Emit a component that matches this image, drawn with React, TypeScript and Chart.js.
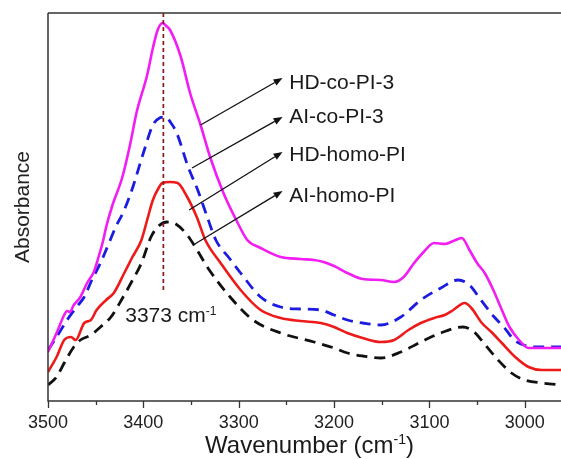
import React, { useEffect, useRef } from 'react';
import { Chart, registerables } from 'chart.js';

Chart.register(...registerables);

// ---- data (wavenumber in cm^-1, absorbance in arbitrary units) ----
const hdCoWn = [3500, 3491, 3483, 3480, 3477, 3473, 3466, 3459, 3452, 3447, 3442, 3439, 3433, 3422, 3414, 3407, 3396, 3390, 3385, 3380, 3376, 3372, 3361, 3351, 3340, 3330, 3316, 3301, 3291, 3277, 3256, 3235, 3221, 3211, 3200, 3186, 3170, 3151, 3137, 3127, 3116, 3106, 3095, 3084, 3075, 3066, 3058, 3050, 3042, 3033, 3024, 3016, 3006, 2996, 2982, 2960];
const hdCoAbs = [49, 68, 86, 90, 89, 96, 104, 118, 129, 144, 161, 174, 194, 224, 256, 289, 326, 353, 371, 378, 375, 371, 345, 308, 276, 244, 208, 178, 161, 153, 144, 142, 141, 139, 135, 128, 122, 121, 119, 124, 138, 149, 158, 157, 160, 163, 151, 138, 128, 111, 91, 74, 61, 53, 53, 53];

const aiCoWn = [3500, 3491, 3480, 3470, 3462, 3454, 3445, 3436, 3429, 3420, 3411, 3400, 3390, 3383, 3377, 3371, 3365, 3353, 3343, 3333, 3324, 3310, 3298, 3277, 3256, 3235, 3214, 3200, 3186, 3170, 3151, 3130, 3109, 3088, 3070, 3058, 3046, 3032, 3022, 3011, 2998, 2986, 2960];
const aiCoAbs = [51, 64, 81, 94, 104, 121, 138, 158, 174, 191, 214, 248, 276, 283, 284, 278, 268, 234, 211, 184, 161, 143, 128, 104, 94, 92, 91, 86, 81, 78, 76, 84, 101, 113, 121, 116, 101, 84, 74, 61, 55, 54, 54];

const hdHomoWn = [3500, 3491, 3483, 3476, 3471, 3462, 3455, 3449, 3439, 3431, 3420, 3412, 3402, 3396, 3390, 3384, 3380, 3372, 3364, 3354, 3344, 3335, 3319, 3298, 3277, 3256, 3235, 3214, 3200, 3186, 3170, 3151, 3137, 3122, 3109, 3095, 3084, 3075, 3063, 3056, 3045, 3035, 3024, 3010, 2996, 2982, 2960];
const hdHomoAbs = [29, 44, 61, 64, 61, 78, 81, 91, 101, 108, 128, 143, 161, 181, 201, 213, 218, 219, 218, 204, 184, 161, 138, 111, 91, 83, 80, 78, 74, 68, 63, 59, 61, 71, 78, 83, 86, 91, 98, 93, 78, 69, 58, 44, 34, 31, 31];

const aiHomoWn = [3500, 3491, 3483, 3473, 3466, 3455, 3445, 3434, 3423, 3413, 3402, 3392, 3384, 3375, 3366, 3354, 3343, 3333, 3309, 3285, 3256, 3221, 3200, 3186, 3170, 3151, 3130, 3109, 3088, 3065, 3053, 3043, 3028, 3014, 3000, 2982, 2960];
const aiHomoAbs = [16, 24, 38, 54, 61, 66, 74, 84, 101, 118, 138, 164, 175, 179, 177, 166, 150, 134, 104, 81, 68, 59, 53, 48, 45, 43, 49, 59, 68, 74, 69, 58, 41, 28, 21, 18, 16];

const seriesNames = ['HD-co-PI-3', 'AI-co-PI-3', 'HD-homo-PI', 'AI-homo-PI'];
const seriesColors = ['#f21df2', '#1c1ce0', '#ee1a1a', '#111111'];

const majorTicks = [3500, 3400, 3300, 3200, 3100, 3000];
const minorTicks = [3450, 3350, 3250, 3150, 3050];

// annotation arrows (data coordinates)
const arrowFromWn = [3340, 3349, 3352, 3346];
const arrowFromAbs = [276, 233, 191, 157];
const arrowToWn = [3254, 3254, 3254, 3254];
const arrowToAbs = [323, 284, 249, 210];
const labelWn = 3247;
const labelAbs = [312, 278, 240, 199];

const peakWn = 3379;
const peakLineBottomAbs = 108;
const peakLabelWn = 3419;
const peakLabelAbs = 79;

const FONT = '"Liberation Sans", Arial, Helvetica, sans-serif';

const toXY = (xs: number[], ys: number[]) => xs.map((x, i) => ({ x, y: ys[i] }));

const annotationPlugin = {
  id: 'annot',
  afterDraw(chart: any) {
    const { ctx, chartArea, scales } = chart;
    const xs = scales.x;
    const ys = scales.y;
    const { left, right, top, bottom } = chartArea;
    ctx.save();

    // frame (left, bottom, top)
    ctx.strokeStyle = '#333333';
    ctx.lineWidth = 1.5;
    ctx.beginPath();
    ctx.moveTo(left, top);
    ctx.lineTo(right + 2, top);
    ctx.moveTo(left, top);
    ctx.lineTo(left, bottom);
    ctx.lineTo(right + 2, bottom);
    ctx.stroke();

    // ticks
    ctx.lineWidth = 1.3;
    ctx.beginPath();
    majorTicks.forEach((v) => {
      const px = Math.round(xs.getPixelForValue(v)) + 0.5;
      ctx.moveTo(px, bottom);
      ctx.lineTo(px, bottom + 7);
    });
    minorTicks.forEach((v) => {
      const px = Math.round(xs.getPixelForValue(v)) + 0.5;
      ctx.moveTo(px, bottom);
      ctx.lineTo(px, bottom + 4);
    });
    ctx.stroke();

    // peak dashed line
    const pX = xs.getPixelForValue(peakWn);
    ctx.strokeStyle = '#8b1a1a';
    ctx.lineWidth = 1.7;
    ctx.setLineDash([4, 3]);
    ctx.beginPath();
    ctx.moveTo(pX, top);
    ctx.lineTo(pX, ys.getPixelForValue(peakLineBottomAbs));
    ctx.stroke();
    ctx.setLineDash([]);

    // arrows
    ctx.strokeStyle = '#111111';
    ctx.fillStyle = '#111111';
    ctx.lineWidth = 1.3;
    arrowFromWn.forEach((_, i) => {
      const x1 = xs.getPixelForValue(arrowFromWn[i]);
      const y1 = ys.getPixelForValue(arrowFromAbs[i]);
      const x2 = xs.getPixelForValue(arrowToWn[i]);
      const y2 = ys.getPixelForValue(arrowToAbs[i]);
      const ang = Math.atan2(y2 - y1, x2 - x1);
      const hl = 9;
      const hw = 3.5;
      const bx = x2 - hl * Math.cos(ang);
      const by = y2 - hl * Math.sin(ang);
      ctx.beginPath();
      ctx.moveTo(x1, y1);
      ctx.lineTo(bx, by);
      ctx.stroke();
      ctx.beginPath();
      ctx.moveTo(x2, y2);
      ctx.lineTo(bx - hw * Math.sin(ang), by + hw * Math.cos(ang));
      ctx.lineTo(bx + hw * Math.sin(ang), by - hw * Math.cos(ang));
      ctx.closePath();
      ctx.fill();
    });

    // labels
    ctx.fillStyle = '#1a1a1a';
    ctx.textBaseline = 'alphabetic';
    ctx.textAlign = 'left';
    ctx.font = `21px ${FONT}`;
    seriesNames.forEach((name, i) => {
      ctx.fillText(name, xs.getPixelForValue(labelWn), ys.getPixelForValue(labelAbs[i]));
    });

    const drawSup = (x: number, y: number, main: string, sup: string, tail: string, size: number, supSize: number, raise: number) => {
      ctx.font = `${size}px ${FONT}`;
      ctx.fillText(main, x, y);
      let cx = x + ctx.measureText(main).width;
      ctx.font = `${supSize}px ${FONT}`;
      ctx.fillText(sup, cx, y - raise);
      cx += ctx.measureText(sup).width;
      if (tail) {
        ctx.font = `${size}px ${FONT}`;
        ctx.fillText(tail, cx, y);
      }
    };
    // peak label
    drawSup(xs.getPixelForValue(peakLabelWn), ys.getPixelForValue(peakLabelAbs), '3373 cm', '-1', '', 21, 12, 7);

    // x-axis title
    ctx.font = `24px ${FONT}`;
    const w1 = ctx.measureText('Wavenumber (cm').width;
    const w3 = ctx.measureText(')').width;
    ctx.font = `14px ${FONT}`;
    const w2 = ctx.measureText('-1').width;
    const total = w1 + w2 + w3;
    const cx = (left + right) / 2 + 5;
    drawSup(cx - total / 2, 453, 'Wavenumber (cm', '-1', ')', 24, 14, 9);

    ctx.restore();
  },
};

export default function App() {
  const ref = useRef<HTMLCanvasElement>(null);
  useEffect(() => {
    if (!ref.current) return;
    const datasets = [
      { data: toXY(hdCoWn, hdCoAbs), borderColor: seriesColors[0], borderWidth: 2.6, borderDash: [] as number[] },
      { data: toXY(aiCoWn, aiCoAbs), borderColor: seriesColors[1], borderWidth: 2.8, borderDash: [11, 7] },
      { data: toXY(hdHomoWn, hdHomoAbs), borderColor: seriesColors[2], borderWidth: 2.6, borderDash: [] as number[] },
      { data: toXY(aiHomoWn, aiHomoAbs), borderColor: seriesColors[3], borderWidth: 2.8, borderDash: [11, 7] },
    ].map((d, i) => ({
      ...d,
      label: seriesNames[i],
      pointRadius: 0,
      fill: false,
      cubicInterpolationMode: 'monotone' as const,
      borderCapStyle: 'butt' as const,
    }));
    const chart = new Chart(ref.current, {
      type: 'line',
      data: { datasets },
      options: {
        responsive: false,
        animation: false,
        devicePixelRatio: 1,
        layout: { padding: { top: 13, right: 0, left: 0, bottom: 0 } },
        plugins: { legend: { display: false }, tooltip: { enabled: false } },
        scales: {
          x: {
            type: 'linear',
            reverse: true,
            min: 2962,
            max: 3500,
            afterFit: (s: any) => { s.height = 58; },
            afterBuildTicks: (s: any) => { s.ticks = majorTicks.map((value) => ({ value })); },
            border: { display: false },
            grid: { display: false, drawTicks: false },
            ticks: {
              autoSkip: false,
              maxRotation: 0,
              padding: 11,
              color: '#222222',
              font: { size: 18, family: FONT },
              callback: (v: any) => String(v),
            },
          },
          y: {
            min: 0,
            max: 388,
            afterFit: (s: any) => { s.width = 48; },
            border: { display: false },
            grid: { display: false, drawTicks: false },
            ticks: { display: false },
            title: {
              display: true,
              text: 'Absorbance',
              color: '#222222',
              font: { size: 21, family: FONT },
              padding: { top: 11, bottom: 0 },
            },
          },
        },
      },
      plugins: [annotationPlugin],
    });
    return () => chart.destroy();
  }, []);
  return (
    <div style={{ position: 'fixed', left: 0, top: 0, width: 561, height: 459, overflow: 'hidden', background: '#fff' }}>
      <canvas ref={ref} width={561} height={459} style={{ display: 'block', width: 561, height: 459 }} />
    </div>
  );
}
